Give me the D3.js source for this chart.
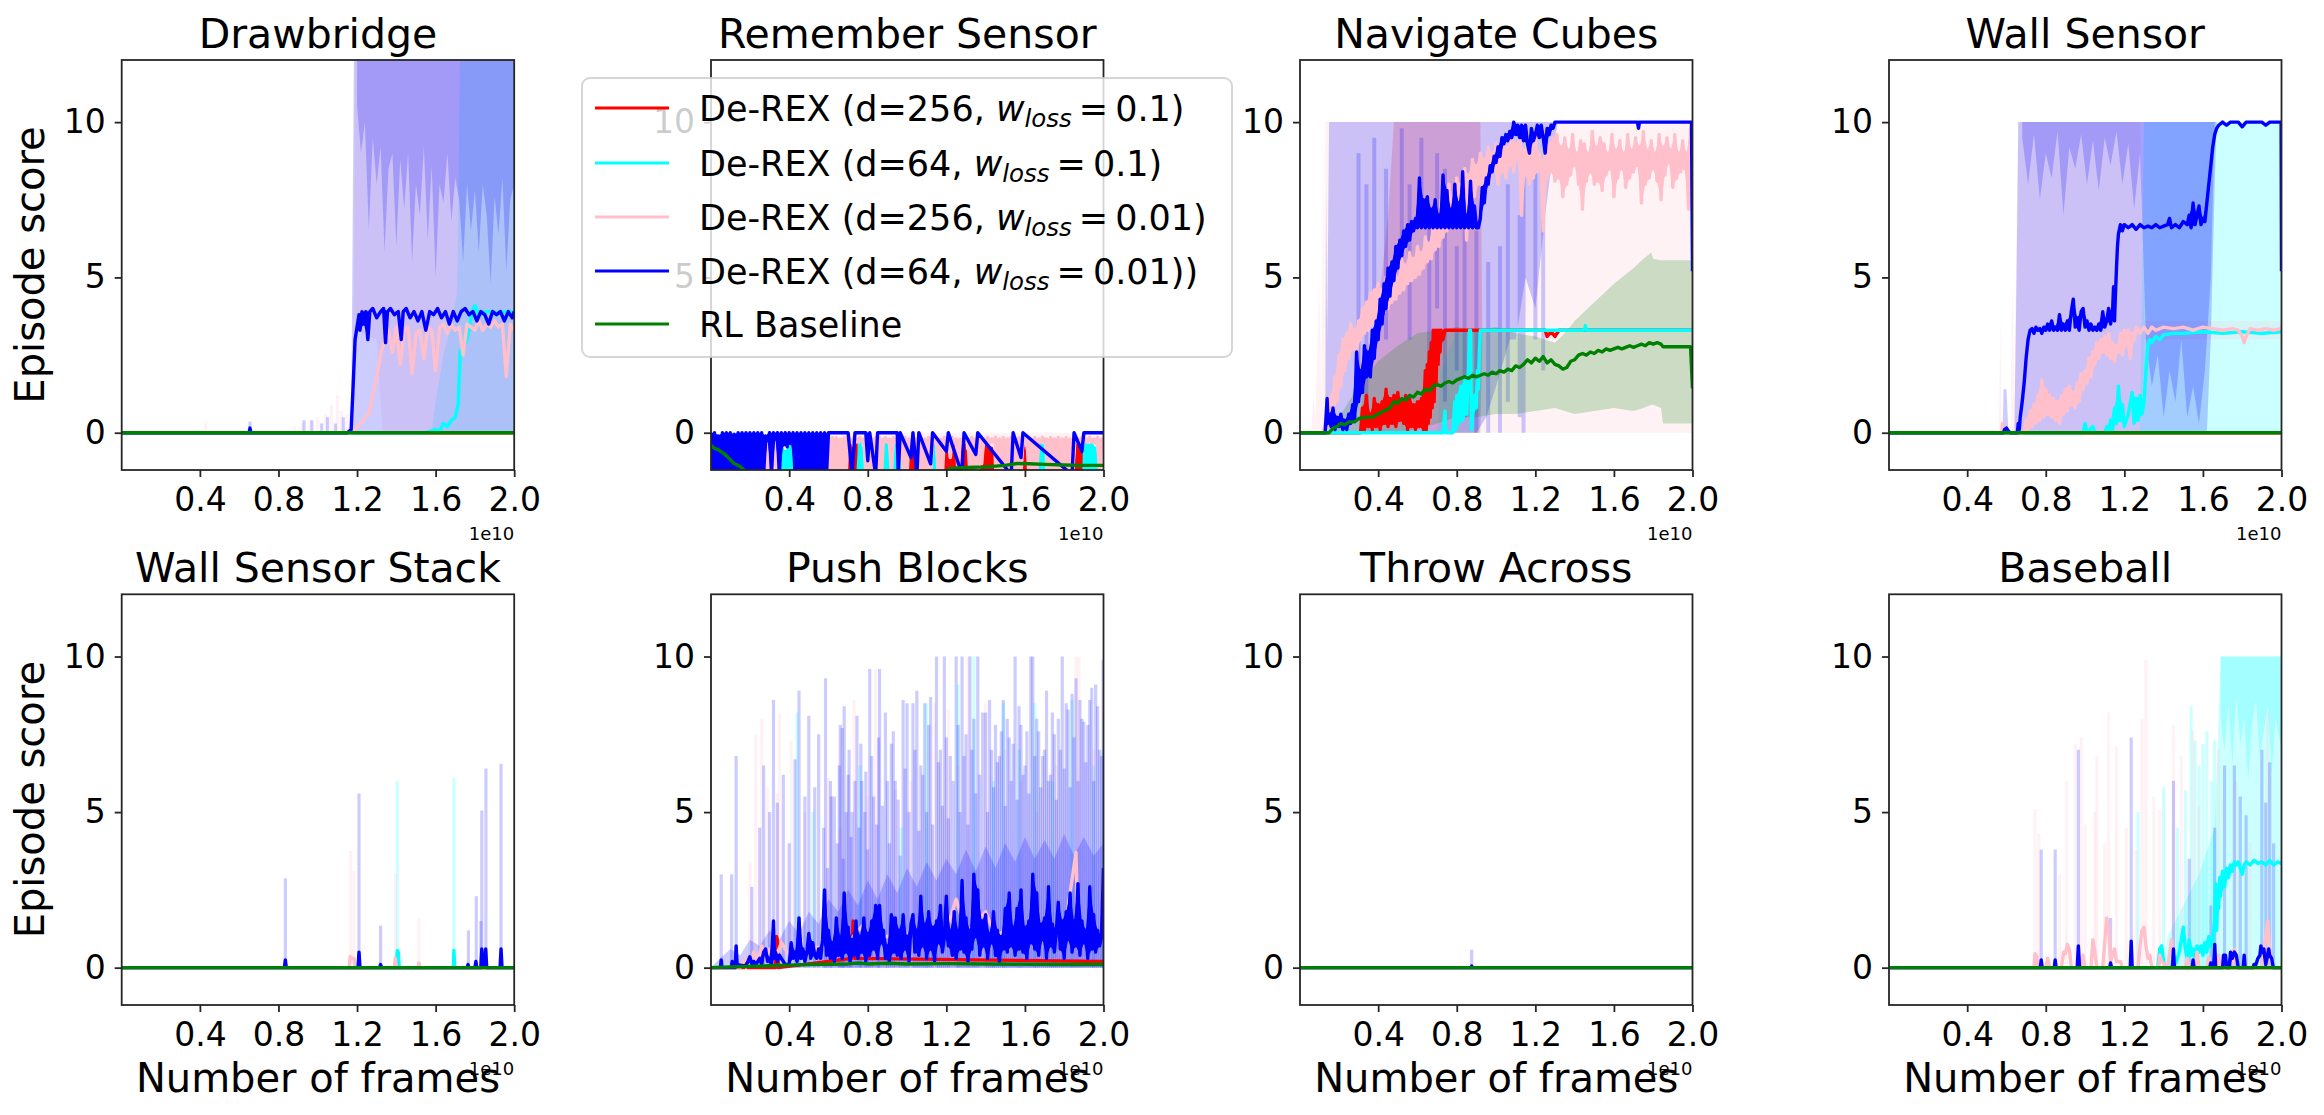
<!DOCTYPE html>
<html><head><meta charset="utf-8">
<script src="https://cdn.jsdelivr.net/npm/d3@7"></script>
<style>
body{margin:0;background:#fff;}
svg text{font-family:"DejaVu Sans",sans-serif;fill:#000;}
</style>
</head><body>
<svg id="chart" width="2324" height="1115"></svg>
<script>
// ---------------- DATA (x in units of 1e10 frames) ----------------
const panelTitles = ["Drawbridge","Remember Sensor","Navigate Cubes","Wall Sensor","Wall Sensor Stack","Push Blocks","Throw Across","Baseball"];
const xTicks = [0.4, 0.8, 1.2, 1.6, 2.0];
const yTicks = [0, 5, 10];
const seriesNames = ["red","cyan","pink","blue","green"];
const seriesColors = {red:"#ff0000", cyan:"#00ffff", pink:"#ffc0cb", blue:"#0000ff", green:"#008000"};
const legendLabels = [
  ["De-REX (d=256, ", "0.1)"],
  ["De-REX (d=64, ", "0.1)"],
  ["De-REX (d=256, ", "0.01)"],
  ["De-REX (d=64, ", "0.01))"],
  ["RL Baseline", null]
];
const zeroLine = [[0,0],[2.0,0]];

// ---- Drawbridge ----
const db_cyan_line = [[0,0],[1.55,0],[1.60,0.1],[1.62,0.05],[1.64,0.3],[1.66,0.2],[1.68,0.4],[1.70,0.5],[1.715,0.9],[1.725,2.6],[1.74,2.8],[1.755,2.9],[1.77,3.3],[1.785,3.9],[1.80,4.1],[1.82,3.8],[1.85,3.9],[1.88,3.9],[1.92,3.85],[1.96,3.9],[2.0,3.9]];
const db_pink_line = [[0,0],[1.18,0],[1.20,0.2],[1.22,0.3],[1.24,0.5],[1.26,0.6],[1.28,1.2],[1.30,1.8],[1.32,2.5],[1.34,3.0],[1.36,3.3],[1.38,2.6],[1.40,3.4],[1.42,2.2],[1.44,3.3],[1.46,3.4],[1.48,1.9],[1.50,3.2],[1.52,3.3],[1.54,2.4],[1.56,3.4],[1.58,3.3],[1.60,2.0],[1.62,3.4],[1.64,3.5],[1.66,3.2],[1.68,3.5],[1.70,3.3],[1.72,3.4],[1.74,2.5],[1.76,3.5],[1.78,3.4],[1.80,3.3],[1.82,3.6],[1.84,3.3],[1.86,3.5],[1.88,3.4],[1.90,3.6],[1.92,3.4],[1.94,3.5],[1.96,1.8],[1.98,3.5],[2.0,3.3]];
const db_blue_line = [[0,0],[0.65,0],[0.655,0.15],[0.66,0],[1.15,0],[1.17,0.1],[1.18,1.5],[1.19,3.0],[1.20,3.4],[1.21,3.8],[1.215,3.3],[1.225,3.9],[1.235,3.5],[1.245,3.9],[1.255,3.0],[1.265,3.9],[1.28,4.0],[1.30,3.7],[1.32,3.9],[1.335,4.0],[1.345,2.9],[1.355,3.9],[1.37,4.0],[1.39,3.8],[1.41,3.9],[1.425,3.0],[1.435,3.9],[1.45,4.0],[1.47,3.7],[1.49,3.9],[1.51,3.6],[1.53,3.9],[1.55,3.3],[1.57,3.9],[1.59,3.8],[1.61,4.0],[1.63,3.7],[1.65,3.9],[1.67,3.5],[1.69,3.9],[1.71,3.6],[1.73,3.9],[1.75,4.0],[1.77,3.8],[1.79,3.9],[1.81,3.6],[1.83,3.9],[1.85,3.8],[1.87,3.5],[1.89,3.9],[1.91,3.8],[1.93,3.9],[1.95,3.6],[1.97,3.9],[1.99,3.7],[2.0,3.9]];
const db_cyan_band = [[1.58,0,0],[1.60,0,1.0],[1.64,0,2.5],[1.68,0,3.5],[1.71,0,4.5],[1.725,0,13],[2.0,0,13]];
const db_pink_band = [[1.18,0,0],[1.19,3.3,13],[1.30,3.0,13],[1.33,0,13],[2.0,0,13]];
const db_blue_band = [[1.17,0,0],[1.185,0,13],[2.0,0,13]];
const db_blue_band2 = [[1.20,10.5,13],[1.22,9.0,13],[1.24,10.0,13],[1.26,6.5,13],[1.28,9.5,13],[1.30,8.0,13],[1.32,9.2,13],[1.34,5.8,13],[1.36,8.5,13],[1.38,9.0,13],[1.40,6.0,13],[1.42,8.8,13],[1.44,7.2,13],[1.46,9.0,13],[1.48,5.5,13],[1.50,8.0,13],[1.52,7.0,13],[1.54,9.2,13],[1.56,6.2,13],[1.58,8.6,13],[1.60,5.0,13],[1.62,8.0,13],[1.64,7.4,13],[1.66,9.0,13],[1.68,6.8,13],[1.70,8.2,13],[1.72,7.5,13],[1.74,5.5,13],[1.76,8.0,13],[1.78,6.5,13],[1.80,7.8,13],[1.82,5.8,13],[1.84,8.0,13],[1.86,7.0,13],[1.88,4.8,13],[1.90,7.6,13],[1.92,6.4,13],[1.94,8.2,13],[1.96,5.2,13],[1.98,7.5,13],[2.0,8.0,13]];
const db_pink_spikes = [[0.43,0.35],[0.88,0.2],[0.92,0.3],[0.96,0.4],[1.0,0.5],[1.04,0.6],[1.07,0.9],[1.10,1.2],[1.12,0.7],[1.15,0.6]];
const db_blue_spikes = [[0.655,0.35],[0.93,0.4],[0.97,0.4],[1.02,0.3],[1.05,0.5],[1.09,0.3],[1.13,0.5]];

// ---- Remember Sensor ----
const rs_red_line = [[0,-1.35],[0.70,-1.35],[0.71,-0.4],[0.715,-1.35],[0.725,-0.5],[0.73,-1.35],[0.74,-0.35],[0.745,-1.35],[1.00,-1.35],[1.01,-0.5],[1.015,-1.35],[1.025,-0.3],[1.03,-1.35],[1.04,-0.6],[1.045,-1.35],[1.19,-1.35],[1.20,-0.4],[1.205,-1.35],[1.215,-0.3],[1.22,-1.35],[1.235,-0.5],[1.24,-1.35],[1.25,-0.35],[1.255,-1.35],[1.27,-0.4],[1.275,-1.35],[1.29,-0.3],[1.295,-1.35],[1.305,-0.6],[1.31,-1.35],[1.38,-1.35],[1.39,-0.45],[1.395,-1.35],[1.41,-0.3],[1.415,-1.35],[1.43,-0.5],[1.435,-1.35],[1.58,-1.35],[1.59,-0.4],[1.595,-1.35],[1.605,-0.5],[1.61,-1.35],[1.86,-1.35],[1.87,-0.35],[1.875,-1.35],[1.89,-0.3],[1.895,-1.35],[2.0,-1.35]];
const rs_cyan_line = [[0,-1.35],[0.03,-1.35],[0.035,-0.1],[0.04,-1.35],[0.36,-1.35],[0.365,-0.5],[0.37,-1.35],[0.38,-0.6],[0.385,-1.35],[0.395,-0.5],[0.40,-1.35],[0.41,-0.4],[0.415,-1.35],[0.75,-1.35],[0.76,-0.3],[0.765,-1.35],[0.77,-0.5],[0.775,-1.35],[0.875,-1.35],[0.88,-0.4],[0.885,-1.35],[0.895,-0.3],[0.90,-1.35],[0.91,-0.5],[0.915,-1.35],[0.93,-1.35],[0.935,-0.4],[0.94,-1.35],[0.95,-0.3],[0.955,-1.35],[0.965,-0.5],[0.97,-1.35],[1.13,-1.35],[1.135,-0.4],[1.14,-1.35],[1.67,-1.35],[1.675,-0.3],[1.68,-1.35],[1.69,-0.4],[1.695,-1.35],[1.90,-1.35],[1.905,-0.3],[1.91,-1.35],[1.925,-0.4],[1.93,-1.35],[1.94,-0.3],[1.945,-1.35],[1.96,-0.5],[1.965,-1.35],[2.0,-1.35]];
const rs_pink_line = [[0,-1.35],[0.275,-1.35],[0.28,-0.3],[0.285,-1.35],[0.29,-0.4],[0.295,-1.35],[0.30,-0.3],[0.31,-1.35],[0.33,-0.3],[0.335,-1.35],[0.59,-1.35],[0.60,-0.15],[0.61,-1.35],[0.62,-0.15],[0.63,-1.35],[0.64,-0.15],[0.65,-1.35],[0.66,-0.2],[0.67,-1.35],[0.68,-0.15],[0.69,-1.35],[0.70,-0.15],[0.705,-0.3],[0.71,-0.2],[0.72,-0.3],[0.73,-0.15],[0.74,-0.3],[0.75,-0.2],[0.755,-0.3],[0.76,-0.15],[0.77,-0.25],[0.78,-0.2],[0.79,-1.35],[0.80,-0.15],[0.81,-1.35],[0.82,-0.2],[0.83,-1.35],[0.84,-0.15],[0.85,-1.35],[0.86,-0.15],[0.87,-1.35],[0.88,-0.2],[0.885,-0.3],[0.89,-0.15],[0.90,-0.3],[0.91,-0.2],[0.92,-1.35],[0.93,-0.15],[0.94,-0.3],[0.95,-0.2],[0.96,-0.35],[0.97,-0.15],[0.98,-1.35],[0.99,-0.15],[1.00,-1.35],[1.01,-0.2],[1.02,-0.3],[1.03,-0.15],[1.04,-0.3],[1.05,-0.2],[1.06,-1.35],[1.07,-0.15],[1.08,-1.35],[1.09,-0.2],[1.10,-1.35],[1.11,-0.15],[1.12,-1.35],[1.13,-0.2],[1.14,-0.3],[1.15,-0.15],[1.16,-1.35],[1.17,-0.2],[1.18,-1.35],[1.19,-0.15],[1.20,-0.3],[1.21,-0.2],[1.22,-0.8],[1.23,-0.15],[1.24,-0.3],[1.25,-0.2],[1.26,-1.35],[1.27,-0.2],[1.28,-0.35],[1.29,-0.15],[1.30,-0.3],[1.31,-0.2],[1.32,-1.35],[1.33,-0.15],[1.34,-1.35],[1.35,-0.2],[1.36,-1.35],[1.37,-0.15],[1.38,-1.0],[1.39,-0.2],[1.40,-0.3],[1.41,-0.15],[1.42,-0.35],[1.43,-0.2],[1.44,-0.3],[1.45,-0.15],[1.46,-1.35],[1.47,-0.2],[1.48,-1.35],[1.49,-0.15],[1.50,-1.35],[1.51,-0.2],[1.52,-1.35],[1.53,-0.15],[1.54,-0.9],[1.55,-0.2],[1.56,-1.35],[1.57,-0.15],[1.58,-1.35],[1.59,-0.2],[1.60,-0.3],[1.61,-0.15],[1.62,-1.35],[1.63,-0.2],[1.64,-1.35],[1.65,-0.15],[1.66,-1.35],[1.67,-0.2],[1.68,-0.3],[1.69,-0.15],[1.70,-0.35],[1.71,-0.2],[1.72,-1.35],[1.73,-0.15],[1.74,-1.35],[1.75,-0.2],[1.76,-1.35],[1.77,-0.15],[1.78,-1.35],[1.79,-0.2],[1.80,-1.35],[1.81,-0.15],[1.82,-1.35],[1.83,-0.2],[1.84,-1.35],[1.85,-0.15],[1.86,-0.3],[1.87,-0.2],[1.88,-0.3],[1.89,-0.15],[1.90,-0.35],[1.91,-0.2],[1.92,-0.3],[1.93,-0.15],[1.94,-0.3],[1.95,-0.2],[1.96,-0.35],[1.97,-0.15],[1.98,-1.35],[1.99,-0.2],[2.0,-0.3]];
const rs_pink_band = [[0.6,-1.35,0],[2.0,-1.35,0]];
const rs_blue_line = [[0,0],[0.01,-1.35],[0.02,0],[0.03,-1.35],[0.04,-0.1],[0.05,-1.35],[0.06,0],[0.07,-1.35],[0.08,0],[0.09,-1.35],[0.10,0],[0.11,-1.35],[0.12,-0.05],[0.13,-1.35],[0.14,0],[0.15,-1.35],[0.16,0],[0.17,-1.35],[0.18,0],[0.19,-1.35],[0.20,0],[0.21,-1.35],[0.22,0],[0.23,-1.35],[0.24,0],[0.25,-1.35],[0.26,0],[0.27,-1.35],[0.28,-0.1],[0.29,-0.25],[0.30,0],[0.31,-1.35],[0.32,0],[0.33,-0.2],[0.34,0],[0.35,-1.35],[0.36,0],[0.37,-0.4],[0.38,0],[0.39,-0.45],[0.40,0],[0.41,-0.35],[0.42,0],[0.43,-1.35],[0.44,0],[0.45,-1.35],[0.46,0],[0.47,-1.35],[0.48,0],[0.49,-1.35],[0.50,0],[0.51,-1.35],[0.52,0],[0.53,-1.35],[0.54,0],[0.55,-1.35],[0.56,0],[0.57,-1.35],[0.58,0],[0.59,-1.35],[0.60,0],[0.70,0],[0.72,-1.35],[0.735,0],[0.79,0],[0.80,-0.9],[0.81,0],[0.84,-1.35],[0.85,0],[0.95,0],[0.955,-1.35],[0.965,0],[1.02,-0.8],[1.03,0],[1.05,-1.35],[1.06,0],[1.12,-1.0],[1.13,0],[1.20,-0.6],[1.21,0],[1.28,-1.35],[1.29,0],[1.35,-0.7],[1.36,0],[1.53,-1.35],[1.54,0],[1.58,-0.8],[1.59,0],[1.84,-1.35],[1.85,0],[1.89,-0.6],[1.90,0],[2.0,0]];
const rs_green_line = [[0.0,-0.4],[0.02,-0.5],[0.04,-0.55],[0.068,-0.67],[0.09,-0.8],[0.119,-0.99],[0.14,-1.05],[0.153,-1.1],[0.17,-1.2],[0.2,-1.35],[1.15,-1.35],[1.22,-1.15],[1.3,-1.12],[1.4,-1.1],[1.5,-1.05],[1.56,-0.99],[1.62,-1.0],[1.7,-1.02],[1.8,-1.04],[1.88,-1.05],[1.96,-1.05],[2.0,-1.05]];
const rs_green_band = [[1.0,-1.35,-1.35],[1.05,-1.35,-0.7],[1.8,-1.35,-0.7],[1.85,-1.35,-1.35]];

// ---- Navigate Cubes ----
const nc_red_line = [[0,0],[0.31,0],[0.32,0.8],[0.33,0.1],[0.34,1.2],[0.35,0.2],[0.36,0.6],[0.37,0.1],[0.38,1.1],[0.39,0.2],[0.40,0.9],[0.41,0.1],[0.42,1.0],[0.43,0.3],[0.44,1.4],[0.45,0.2],[0.46,1.1],[0.47,0.3],[0.48,1.2],[0.49,0.2],[0.50,1.3],[0.51,0.4],[0.52,1.0],[0.53,0.3],[0.54,1.2],[0.55,0.1],[0.56,1.1],[0.57,0.2],[0.58,0.9],[0.59,0.1],[0.60,1.0],[0.61,0.2],[0.62,1.1],[0.63,0.1],[0.64,2.0],[0.645,0.1],[0.65,2.2],[0.655,0.3],[0.66,2.6],[0.665,0.5],[0.67,2.9],[0.675,0.8],[0.68,3.3],[0.685,1.0],[0.69,3.3],[0.695,1.6],[0.70,3.3],[0.705,2.2],[0.71,3.3],[0.715,2.6],[0.72,3.3],[0.73,3.0],[0.74,3.3],[1.25,3.3],[1.26,3.1],[1.28,3.25],[1.30,3.1],[1.32,3.3],[2.0,3.3]];
const nc_red_band = [[0.31,0,0],[0.32,0,1.5],[0.40,0,4.0],[0.45,0,7.0],[0.48,0,10],[0.92,0,10],[0.93,3.3,3.3],[2.0,3.3,3.3]];
const nc_cyan_line = [[0,0],[0.73,0],[0.74,0.7],[0.745,0],[0.78,0],[0.79,1.0],[0.795,0.1],[0.80,1.2],[0.81,0.3],[0.82,1.5],[0.83,0.4],[0.84,1.7],[0.85,0.6],[0.86,2.0],[0.865,3.3],[0.87,3.3],[0.875,0.1],[0.88,0.5],[0.89,1.2],[0.90,0.8],[0.905,2.0],[0.91,1.4],[0.915,2.6],[0.92,3.3],[1.45,3.3],[1.455,3.45],[1.46,3.3],[2.0,3.3]];
const nc_cyan_band = [[0.70,0,0],[0.72,0,2],[0.80,0,3.3],[0.92,0,3.3],[0.93,3.3,3.3],[2.0,3.3,3.3]];
const nc_pink_line = [[0,0],[0.12,0],[0.13,0.3],[0.14,0.8],[0.15,0.3],[0.16,1.2],[0.17,0.6],[0.18,1.8],[0.19,1.0],[0.20,2.5],[0.21,1.5],[0.22,3.0],[0.23,2.0],[0.24,3.2],[0.25,2.4],[0.26,3.5],[0.27,2.7],[0.28,3.3],[0.29,2.5],[0.30,3.6],[0.31,3.0],[0.32,4.0],[0.33,3.2],[0.34,4.2],[0.35,3.3],[0.36,4.5],[0.37,3.5],[0.38,4.6],[0.39,3.6],[0.40,4.8],[0.41,3.8],[0.42,4.6],[0.43,3.9],[0.44,5.0],[0.45,4.0],[0.46,4.8],[0.47,4.2],[0.48,5.3],[0.49,4.3],[0.50,5.0],[0.51,4.5],[0.52,5.6],[0.53,4.6],[0.54,5.4],[0.55,4.8],[0.56,5.8],[0.57,4.9],[0.58,5.6],[0.59,5.0],[0.60,6.0],[0.61,5.1],[0.62,5.8],[0.63,5.3],[0.64,6.3],[0.65,5.5],[0.66,6.1],[0.67,5.6],[0.68,6.8],[0.69,5.9],[0.70,6.5],[0.71,6.0],[0.72,7.5],[0.73,6.3],[0.74,7.1],[0.75,6.5],[0.76,8.0],[0.77,6.8],[0.78,7.6],[0.79,7.0],[0.80,8.2],[0.81,7.2],[0.82,8.0],[0.83,7.5],[0.84,8.5],[0.85,6.2],[0.86,8.3],[0.87,7.8],[0.88,8.8],[0.89,7.6],[0.90,8.6],[0.91,8.0],[0.92,9.0],[0.93,7.9],[0.94,8.8],[0.95,8.2],[0.96,9.2],[0.97,8.1],[0.98,9.0],[0.99,8.5],[1.00,9.3],[1.01,8.0],[1.02,9.1],[1.03,8.4],[1.04,9.4],[1.05,8.2],[1.06,9.2],[1.07,8.6],[1.08,9.6],[1.09,8.4],[1.10,9.3],[1.11,8.8],[1.12,9.5],[1.13,7.0],[1.14,9.1],[1.15,8.3],[1.16,9.4],[1.17,8.0],[1.18,9.2],[1.19,8.2],[1.20,9.5],[1.21,8.4],[1.22,9.0],[1.23,8.6],[1.24,6.5],[1.25,9.1],[1.26,8.2],[1.27,9.3],[1.28,8.4],[1.29,9.5],[1.30,8.1],[1.31,9.6],[1.32,8.2],[1.33,9.2],[1.34,7.6],[1.35,9.5],[1.36,8.0],[1.37,9.1],[1.38,8.3],[1.39,9.6],[1.40,8.6],[1.41,9.0],[1.42,8.0],[1.43,9.4],[1.44,7.2],[1.45,9.3],[1.46,8.1],[1.47,9.0],[1.48,8.4],[1.49,9.7],[1.50,8.0],[1.51,9.2],[1.52,8.1],[1.53,9.5],[1.54,7.8],[1.55,9.3],[1.56,8.3],[1.57,9.0],[1.58,8.5],[1.59,9.6],[1.60,7.6],[1.61,9.1],[1.62,8.2],[1.63,9.4],[1.64,8.5],[1.65,9.0],[1.66,7.9],[1.67,9.6],[1.68,8.2],[1.69,9.1],[1.70,8.4],[1.71,9.5],[1.72,8.6],[1.73,9.2],[1.74,7.4],[1.75,9.7],[1.76,8.0],[1.77,9.1],[1.78,8.2],[1.79,9.4],[1.80,8.5],[1.81,9.0],[1.82,8.1],[1.83,9.6],[1.84,7.5],[1.85,9.2],[1.86,8.3],[1.87,9.5],[1.88,8.7],[1.89,9.1],[1.90,7.9],[1.91,9.6],[1.92,8.2],[1.93,9.0],[1.94,8.4],[1.95,9.4],[1.96,8.5],[1.97,9.0],[1.98,7.2],[1.99,9.8],[2.0,8.6]];
const nc_pink_band = [[0.06,0,0],[0.07,0,1.2],[0.08,0,0.5],[0.10,0,5.0],[0.11,0,1.0],[0.12,0,10],[0.125,0,3.0],[0.13,0,10],[2.0,0,10]];
const nc_blue_line = [[0,0],[0.13,0],[0.14,1.1],[0.145,0.3],[0.15,0.6],[0.16,0.2],[0.17,0.8],[0.18,0.1],[0.19,0.5],[0.20,0.2],[0.21,0.6],[0.22,0.1],[0.23,0.4],[0.24,0.1],[0.25,0.6],[0.26,0.3],[0.27,0.9],[0.28,0.4],[0.29,2.6],[0.30,1.0],[0.31,2.0],[0.32,1.3],[0.33,2.8],[0.34,1.8],[0.35,2.6],[0.36,1.8],[0.37,3.3],[0.38,2.4],[0.39,3.6],[0.40,3.0],[0.41,4.3],[0.42,3.5],[0.43,4.8],[0.44,4.0],[0.45,5.3],[0.46,4.4],[0.47,5.5],[0.48,4.9],[0.49,6.0],[0.50,5.3],[0.51,6.2],[0.52,5.7],[0.53,6.5],[0.54,6.0],[0.55,6.7],[0.56,6.2],[0.57,6.8],[0.58,6.5],[0.59,6.9],[0.60,6.6],[0.61,8.2],[0.62,6.6],[0.63,7.5],[0.64,6.6],[0.65,7.6],[0.66,6.6],[0.67,7.2],[0.68,6.6],[0.69,7.5],[0.70,6.6],[0.71,7.0],[0.72,6.6],[0.73,8.3],[0.74,6.6],[0.75,7.8],[0.76,6.6],[0.77,7.2],[0.78,6.6],[0.79,8.0],[0.80,6.6],[0.81,7.4],[0.82,6.6],[0.83,8.4],[0.84,6.6],[0.85,7.0],[0.86,6.6],[0.87,8.1],[0.88,6.6],[0.89,7.3],[0.90,6.6],[0.91,6.6],[0.92,6.9],[0.93,7.9],[0.94,7.4],[0.95,8.2],[0.96,8.0],[0.97,8.6],[0.98,8.4],[0.99,8.9],[1.00,8.7],[1.01,9.2],[1.02,8.9],[1.03,9.5],[1.04,9.3],[1.05,9.6],[1.06,9.4],[1.07,9.7],[1.08,9.5],[1.09,10.0],[1.10,9.6],[1.11,9.9],[1.12,9.5],[1.13,9.9],[1.14,9.4],[1.15,9.9],[1.16,9.3],[1.17,9.0],[1.18,9.8],[1.19,9.4],[1.20,9.6],[1.21,9.9],[1.22,9.5],[1.23,9.9],[1.24,9.5],[1.25,9.0],[1.26,9.8],[1.27,9.6],[1.28,9.9],[1.29,9.8],[1.30,10.0],[1.72,10.0],[1.725,9.8],[1.73,10.0],[1.995,10.0],[2.0,5.2]];
const nc_blue_band = [[0.13,0,0],[0.135,0,8.0],[0.14,0,3],[0.15,0,10],[0.9,0,10],[0.95,0.5,10],[1.0,1.5,10],[1.07,3.0,10],[1.1,3.0,10],[1.15,5,10],[1.2,4,10],[1.25,7,10],[1.3,9.5,10],[1.315,10,10],[2.0,10,10]];
const nc_blue_streaks = [[0.30,2,9],[0.34,1,8],[0.38,4,9.5],[0.44,3,8.5],[0.52,5,9.8],[0.56,3,8],[0.62,7,9.5],[0.66,2,7],[0.70,4,9],[0.74,1,8.5],[0.80,2,6],[0.84,0.5,7],[0.90,0,6.5],[0.96,0,5.5],[1.02,0,6],[1.06,1,8],[1.12,0.5,7],[1.14,0,9],[1.20,3,8.5],[1.24,2,7]];
const nc_green_line = [[0,0],[0.15,0],[0.17,0.15],[0.19,0.2],[0.21,0.3],[0.23,0.25],[0.25,0.35],[0.28,0.35],[0.30,0.45],[0.33,0.5],[0.37,0.5],[0.40,0.6],[0.43,0.7],[0.46,0.8],[0.48,1.0],[0.50,0.95],[0.52,1.1],[0.54,1.05],[0.56,1.2],[0.58,1.15],[0.60,1.3],[0.62,1.25],[0.64,1.4],[0.66,1.35],[0.68,1.5],[0.70,1.55],[0.72,1.5],[0.74,1.6],[0.76,1.65],[0.78,1.6],[0.80,1.7],[0.82,1.75],[0.84,1.8],[0.86,1.75],[0.88,1.85],[0.90,1.8],[0.92,1.85],[0.94,1.9],[0.96,1.85],[0.98,1.95],[1.00,1.9],[1.02,2.0],[1.04,1.95],[1.06,2.05],[1.08,2.0],[1.10,2.15],[1.12,2.1],[1.14,2.2],[1.16,2.35],[1.18,2.25],[1.20,2.4],[1.22,2.3],[1.24,2.45],[1.26,2.25],[1.28,2.35],[1.30,2.2],[1.32,2.15],[1.34,2.05],[1.36,2.1],[1.38,2.3],[1.40,2.35],[1.42,2.5],[1.44,2.55],[1.46,2.5],[1.48,2.6],[1.50,2.55],[1.52,2.65],[1.54,2.6],[1.56,2.7],[1.58,2.65],[1.60,2.7],[1.62,2.75],[1.64,2.7],[1.66,2.75],[1.68,2.8],[1.70,2.75],[1.72,2.8],[1.74,2.85],[1.76,2.8],[1.78,2.9],[1.80,2.85],[1.82,2.9],[1.84,2.85],[1.85,2.77],[1.99,2.77],[2.0,1.43]];
const nc_green_band = [[0.15,0,0],[0.2,0,0.5],[0.3,0,1.5],[0.4,0,2.3],[0.5,0,2.8],[0.6,0.1,3.2],[0.7,0.3,3.3],[0.8,0.5,3.4],[0.9,0.5,3.3],[1.0,0.6,3.4],[1.1,0.6,3.2],[1.2,0.7,3.1],[1.3,0.8,2.9],[1.35,0.7,3.2],[1.4,0.6,3.6],[1.5,0.7,4.2],[1.6,0.8,4.8],[1.7,0.7,5.3],[1.75,0.8,5.6],[1.79,0.9,5.8],[1.80,0.9,5.6],[1.84,0.8,5.55],[1.85,0.3,5.55],[2.0,0.3,5.55]];

// ---- Wall Sensor ----
const ws_cyan_line = [[0,0],[0.99,0],[1.0,0.3],[1.01,0],[1.04,0.2],[1.05,0],[1.10,0],[1.11,0.2],[1.12,0.0],[1.13,0.4],[1.14,0.1],[1.15,0.8],[1.16,0.3],[1.17,1.5],[1.18,0.4],[1.19,0.9],[1.20,0.2],[1.22,0.6],[1.24,1.3],[1.25,0.3],[1.26,1.1],[1.27,0.4],[1.28,1.2],[1.29,0.6],[1.30,1.0],[1.31,2.0],[1.32,2.8],[1.33,3.0],[1.34,2.9],[1.36,3.1],[1.38,3.0],[1.40,3.15],[1.45,3.2],[1.5,3.2],[1.6,3.25],[1.7,3.2],[1.8,3.25],[1.9,3.2],[2.0,3.25]];
const ws_cyan_band = [[1.28,0,0],[1.30,0,10],[2.0,0,10]];
const ws_pink_line = [[0,0],[0.575,0],[0.58,0.3],[0.585,0],[0.69,0],[0.70,0.4],[0.71,0.1],[0.72,0.7],[0.73,0.2],[0.74,0.9],[0.75,0.3],[0.76,1.2],[0.77,0.4],[0.78,1.7],[0.79,0.5],[0.80,1.4],[0.81,0.6],[0.82,1.2],[0.83,0.5],[0.84,1.1],[0.85,0.4],[0.86,1.0],[0.87,0.3],[0.88,1.2],[0.89,0.6],[0.90,1.4],[0.91,0.7],[0.92,1.5],[0.93,0.9],[0.94,1.3],[0.95,0.8],[0.96,1.6],[0.97,1.0],[0.98,1.9],[0.99,1.4],[1.00,2.0],[1.01,1.6],[1.02,2.4],[1.03,1.8],[1.04,2.6],[1.05,2.2],[1.06,2.9],[1.07,2.4],[1.08,3.0],[1.09,2.6],[1.10,3.1],[1.11,2.5],[1.12,3.2],[1.13,2.4],[1.14,2.9],[1.15,2.3],[1.16,2.8],[1.17,2.6],[1.18,3.2],[1.19,2.5],[1.20,3.3],[1.21,2.8],[1.22,3.3],[1.23,2.4],[1.24,3.2],[1.25,3.0],[1.26,3.4],[1.28,3.2],[1.30,3.4],[1.32,3.2],[1.34,3.4],[1.36,3.3],[1.40,3.4],[1.45,3.35],[1.50,3.4],[1.55,3.3],[1.60,3.4],[1.65,3.35],[1.70,3.3],[1.75,3.35],[1.78,3.3],[1.80,3.1],[1.81,2.9],[1.82,3.1],[1.84,3.35],[1.88,3.3],[1.92,3.35],[1.96,3.3],[2.0,3.35]];
const ws_pink_band = [[0.56,0,0],[0.57,0,3.8],[0.575,0,0],[0.62,0,0],[0.63,0,5.0],[0.64,0,1],[0.65,0,6.0],[0.66,0,10],[1.28,0,10],[1.30,3.0,3.6],[2.0,3.0,3.6]];
const ws_blue_line = [[0,0],[0.585,0],[0.59,0.1],[0.60,0.15],[0.61,0.05],[0.62,0],[0.655,0],[0.66,0.3],[0.665,0.1],[0.67,0.5],[0.68,1.0],[0.69,1.6],[0.70,2.4],[0.71,3.0],[0.72,3.3],[0.73,3.35],[0.74,3.2],[0.75,3.4],[0.76,3.3],[0.77,3.35],[0.78,3.2],[0.79,3.4],[0.80,3.3],[0.81,3.5],[0.82,3.3],[0.83,3.6],[0.84,3.3],[0.85,3.4],[0.86,3.3],[0.87,3.8],[0.88,3.3],[0.89,3.5],[0.90,3.3],[0.91,3.6],[0.92,3.3],[0.93,3.9],[0.94,4.3],[0.95,3.4],[0.96,3.7],[0.97,3.3],[0.98,3.9],[0.99,4.0],[1.00,3.4],[1.01,3.6],[1.02,3.3],[1.03,3.5],[1.04,3.3],[1.05,3.4],[1.06,3.3],[1.07,3.5],[1.08,3.3],[1.09,3.9],[1.10,3.4],[1.11,3.6],[1.12,4.0],[1.13,3.5],[1.14,3.9],[1.145,4.7],[1.15,3.6],[1.155,4.5],[1.16,5.3],[1.165,6.0],[1.17,6.4],[1.18,6.7],[1.19,6.5],[1.20,6.7],[1.22,6.6],[1.24,6.7],[1.26,6.55],[1.28,6.7],[1.30,6.6],[1.32,6.65],[1.34,6.6],[1.36,6.7],[1.38,6.6],[1.40,6.65],[1.42,6.7],[1.43,6.9],[1.44,6.6],[1.46,6.7],[1.48,6.6],[1.50,6.8],[1.52,6.7],[1.53,7.0],[1.54,6.6],[1.55,7.4],[1.56,6.7],[1.57,7.0],[1.58,7.3],[1.59,6.7],[1.60,6.9],[1.61,6.8],[1.62,7.4],[1.63,8.0],[1.64,8.6],[1.65,9.2],[1.66,9.6],[1.67,9.8],[1.68,9.9],[1.70,10.0],[1.72,9.9],[1.74,10.0],[1.78,10.0],[1.80,9.85],[1.82,10.0],[1.9,10.0],[1.92,9.9],[1.94,10.0],[1.998,10.0],[2.0,5.2]];
const ws_blue_band = [[0.58,0,0],[0.585,0,1.4],[0.60,0,1.4],[0.61,0,0],[0.64,0,0],[0.65,0,4.5],[0.66,0,10],[1.62,0,10],[1.64,3,10],[1.66,8,10],[1.67,10,10],[2.0,10,10]];
const ws_blue_band2 = [[0.68,9.5,10],[0.71,8.0,10],[0.74,9.6,10],[0.77,7.5,10],[0.80,9.0,10],[0.83,8.2,10],[0.86,9.7,10],[0.89,7.0,10],[0.92,9.2,10],[0.95,8.5,10],[0.98,9.6,10],[1.01,8.0,10],[1.04,9.4,10],[1.07,7.8,10],[1.10,9.5,10],[1.13,8.6,10],[1.16,9.7,10],[1.19,8.0,10],[1.22,9.3,10],[1.25,7.2,10],[1.28,9.0,10],[1.31,3.0,10],[1.34,1.5,10],[1.37,2.5,10],[1.40,0.5,10],[1.43,2.0,10],[1.46,1.0,10],[1.49,3.0,10],[1.52,0.5,10],[1.55,1.5,10],[1.58,0.3,10],[1.61,2.0,10],[1.64,5.0,10],[1.66,10,10]];

// ---- Wall Sensor Stack ----
const wss_cyan_line = [[0,0],[1.40,0],[1.405,0.55],[1.41,0.5],[1.415,0],[1.69,0],[1.693,0.55],[1.697,0],[2.0,0]];
const wss_cyan_spikes = [[1.405,6.0],[1.693,6.1]];
const wss_pink_line = [[0,0],[1.16,0],[1.165,0.35],[1.175,0.3],[1.185,0.3],[1.19,0],[1.39,0],[1.395,0.3],[1.40,0],[1.51,0],[1.515,0.15],[1.52,0],[2.0,0]];
const wss_pink_spikes = [[1.167,3.75],[1.184,3.1],[1.395,3.05],[1.515,1.6]];
const wss_blue_line = [[0,0],[0.83,0],[0.835,0.25],[0.84,0],[1.205,0],[1.21,0.5],[1.215,0],[1.315,0],[1.32,0.1],[1.325,0],[1.76,0],[1.765,0.1],[1.77,0],[1.80,0],[1.805,0.2],[1.81,0],[1.83,0],[1.835,0.6],[1.84,0.1],[1.85,0.1],[1.855,0.6],[1.86,0],[1.928,0],[1.933,0.6],[1.938,0],[2.0,0]];
const wss_blue_spikes = [[0.835,2.87],[1.21,5.6],[1.32,1.35],[1.767,1.2],[1.807,2.3],[1.83,1.5],[1.835,5.05],[1.856,6.4],[1.933,6.55]];

// ---- Push Blocks ----
const pb_red_line = [[0,0],[0.17,0],[0.18,0.2],[0.19,0],[0.33,0],[0.335,1.0],[0.34,0.9],[0.345,0],[0.72,0.3],[0.725,1.5],[0.73,1.0],[0.735,0.3],[2.0,0.2]];
const pb_cyan_spikes = [[0.44,8.2],[0.52,5.0],[0.76,6.5],[0.97,4.5],[1.10,8.5],[1.26,9.1],[1.34,10],[1.44,6.0],[1.49,8.5],[1.57,7.0],[1.65,8.5],[1.74,6.0],[1.84,8.6],[1.95,6.5],[1.998,7.0]];
const pb_pink_line = [[0,0],[0.15,0],[0.18,0.3],[0.2,0.1],[0.22,0.5],[0.24,0.2],[0.26,0.7],[0.28,0.3],[0.30,0.6],[0.33,0.3],[0.36,0.8],[0.40,0.4],[0.5,0.6],[0.6,0.7],[0.7,0.8],[0.78,1.4],[0.8,0.9],[0.9,1.0],[1.0,1.1],[1.1,1.0],[1.2,1.2],[1.25,2.2],[1.3,1.1],[1.4,1.8],[1.45,1.0],[1.5,1.2],[1.6,1.1],[1.7,1.2],[1.8,1.1],[1.86,3.7],[1.87,1.2],[1.9,1.0],[2.0,1.1]];
const pb_pink_spikes = [[0.20,3.4],[0.23,7.5],[0.26,8.0],[0.29,5.8],[0.34,5.6],[0.35,8.2],[0.41,7.3],[0.48,5.0],[0.60,6.1],[0.66,4.5],[0.73,8.6],[0.80,5.5],[0.84,9.6],[0.94,5.7],[1.02,6.0],[1.14,8.5],[1.21,8.3],[1.26,6.5],[1.31,10],[1.40,8.5],[1.50,7.0],[1.58,6.0],[1.66,5.0],[1.76,6.5],[1.86,10],[1.875,10],[1.95,7.0]];
const pb_blue_line = [[0,0],[0.05,0],[0.054,0.25],[0.058,0],[0.105,0],[0.11,0.2],[0.115,0],[0.125,0],[0.13,0.7],[0.135,0.1],[0.18,0.05],[0.19,0.2],[0.2,0.35],[0.21,0.1],[0.22,0.2],[0.23,0.1],[0.25,0.3],[0.26,0.1],[0.27,0.5],[0.28,0.6],[0.29,0.2],[0.30,0.3],[0.31,0.1],[0.32,1.5],[0.325,0.3],[0.33,0.5],[0.34,0.2],[0.35,0.4],[0.36,0.3],[0.37,0.2],[0.38,0.1],[0.40,0.1],[0.41,0.8],[0.42,0.3],[0.43,0.5],[0.44,0.2],[0.45,1.6],[0.46,0.3],[0.47,0.6],[0.48,0.2],[0.49,0.5],[0.50,1.1],[0.51,0.3],[0.52,0.8],[0.53,0.4],[0.54,0.3],[0.55,0.6],[0.56,0.3],[0.57,0.9],[0.58,2.5],[0.59,0.4],[0.60,1.2],[0.61,0.3],[0.62,0.8],[0.63,0.2],[0.64,1.6],[0.65,0.4],[0.66,1.0],[0.67,0.3],[0.68,2.4],[0.69,0.5],[0.70,1.3],[0.71,0.2],[0.72,0.9],[0.73,0.4],[0.74,1.5],[0.75,0.3],[0.76,1.0],[0.77,0.5],[0.78,1.6],[0.79,0.2],[0.80,1.1],[0.81,0.4],[0.82,1.5],[0.83,0.6],[0.84,2.0],[0.85,0.3],[0.86,2.0],[0.87,0.8],[0.88,1.2],[0.89,0.3],[0.90,0.7],[0.91,0.2],[0.92,1.7],[0.93,0.5],[0.94,1.6],[0.95,0.4],[0.96,1.2],[0.97,0.3],[0.98,1.7],[0.99,0.6],[1.00,1.0],[1.01,0.2],[1.02,1.4],[1.03,1.7],[1.04,0.5],[1.05,1.2],[1.06,0.4],[1.07,2.3],[1.08,0.7],[1.09,1.4],[1.10,0.3],[1.11,1.8],[1.12,0.6],[1.13,1.3],[1.14,0.2],[1.15,1.5],[1.16,0.8],[1.17,2.0],[1.18,0.5],[1.19,1.0],[1.20,2.3],[1.21,0.7],[1.22,1.2],[1.23,0.4],[1.24,1.8],[1.25,0.3],[1.26,1.2],[1.27,0.6],[1.28,2.8],[1.29,0.5],[1.30,1.6],[1.31,0.2],[1.32,1.2],[1.33,0.6],[1.34,3.0],[1.35,1.0],[1.36,2.5],[1.37,0.4],[1.38,1.5],[1.39,0.7],[1.40,1.7],[1.41,0.3],[1.42,1.1],[1.43,0.8],[1.44,1.8],[1.45,0.4],[1.46,1.2],[1.47,0.2],[1.48,1.0],[1.49,0.6],[1.50,1.9],[1.51,0.5],[1.52,2.4],[1.53,0.7],[1.54,1.3],[1.55,0.4],[1.56,1.9],[1.57,0.6],[1.58,2.5],[1.59,0.5],[1.60,1.3],[1.61,0.3],[1.62,1.5],[1.63,0.8],[1.64,3.0],[1.65,0.6],[1.66,2.4],[1.67,0.4],[1.68,1.4],[1.69,0.9],[1.70,1.6],[1.71,0.3],[1.72,2.6],[1.73,0.7],[1.74,1.4],[1.75,0.5],[1.76,1.2],[1.77,2.1],[1.78,0.6],[1.79,1.5],[1.80,0.3],[1.81,1.8],[1.82,0.9],[1.83,2.4],[1.84,0.5],[1.85,1.5],[1.86,0.7],[1.87,2.7],[1.88,0.4],[1.89,1.5],[1.90,0.8],[1.91,1.2],[1.92,0.3],[1.93,2.6],[1.94,0.6],[1.95,1.7],[1.96,0.5],[1.97,1.2],[1.98,0.7],[1.99,1.0],[2.0,3.2]];
const pb_blue_band = [[0,0,0],[0.05,0,0.3],[0.1,0,0.6],[0.15,0,0.4],[0.2,0,0.9],[0.25,0,0.7],[0.3,0,1.2],[0.35,0,0.9],[0.4,0,1.5],[0.45,0,1.1],[0.5,0,1.8],[0.55,0,1.4],[0.6,0,2.2],[0.65,0,1.8],[0.7,0,2.5],[0.75,0,2.0],[0.8,0,2.8],[0.85,0,2.2],[0.9,0,3.0],[0.95,0,2.4],[1.0,0,3.2],[1.05,0,2.6],[1.1,0,3.4],[1.15,0,2.8],[1.2,0,3.5],[1.25,0,3.0],[1.3,0,3.8],[1.35,0,3.1],[1.4,0,3.9],[1.45,0,3.2],[1.5,0,4.0],[1.55,0,3.4],[1.6,0,4.2],[1.65,0,3.5],[1.7,0,4.1],[1.75,0,3.5],[1.8,0,4.3],[1.85,0,3.6],[1.9,0,4.2],[1.95,0,3.6],[2.0,0,4.0]];
const pb_blue_spikes = [[0.054,3.0],[0.107,3.0],[0.13,6.8],[0.21,2.6],[0.25,4.5],[0.27,6.5],[0.30,5.0],[0.32,8.6],[0.34,5.3],[0.37,6.2],[0.40,4.0],[0.43,6.7],[0.45,8.9],[0.48,5.5],[0.50,8.1],[0.53,5.8],[0.55,7.5],[0.585,9.3],[0.61,6.0],[0.63,5.5],[0.66,7.8],[0.67,7.7],[0.68,8.4],[0.70,6.2],[0.72,5.0],[0.745,8.1],[0.77,6.0],[0.79,6.3],[0.81,9.6],[0.83,5.5],[0.86,9.6],[0.89,8.2],[0.92,7.2],[0.94,6.0],[0.98,8.6],[1.00,8.5],[1.03,8.5],[1.05,8.9],[1.07,6.5],[1.09,8.5],[1.12,8.7],[1.15,10],[1.17,7.0],[1.19,10],[1.22,6.8],[1.25,10],[1.28,10],[1.30,7.5],[1.32,10],[1.34,8.0],[1.36,10],[1.40,8.2],[1.42,8.6],[1.45,7.8],[1.47,6.8],[1.49,8.6],[1.52,7.4],[1.55,10],[1.58,7.8],[1.60,6.5],[1.63,10],[1.64,10],[1.67,7.6],[1.69,6.8],[1.71,8.9],[1.73,6.2],[1.75,7.5],[1.77,8.0],[1.79,10],[1.82,8.3],[1.84,8.8],[1.86,9.3],[1.88,8.6],[1.90,7.9],[1.93,8.6],[1.94,9.0],[1.96,9.1],[1.98,7.0],[1.998,9.9]];
const pb_blue_spikes2 = [[0.575,4.5],[0.595,3.2],[0.615,5.5],[0.645,4.0],[0.655,6.5],[0.675,3.5],[0.69,5.0],[0.705,7.0],[0.715,4.2],[0.735,6.0],[0.755,4.5],[0.765,7.2],[0.785,5.0],[0.80,3.8],[0.82,6.8],[0.845,4.6],[0.855,7.4],[0.875,5.2],[0.90,6.0],[0.91,4.0],[0.93,7.6],[0.955,5.4],[0.965,3.6],[0.99,6.4],[1.01,5.0],[1.04,7.0],[1.06,4.4],[1.08,6.2],[1.10,5.0],[1.11,7.8],[1.13,4.6],[1.16,6.6],[1.18,5.2],[1.20,7.4],[1.21,4.8],[1.235,6.0],[1.26,7.8],[1.27,5.0],[1.29,6.8],[1.31,4.6],[1.33,7.0],[1.35,5.6],[1.37,6.2],[1.385,8.2],[1.41,5.0],[1.43,7.0],[1.44,5.8],[1.46,6.6],[1.48,7.6],[1.50,5.2],[1.51,8.0],[1.53,6.0],[1.54,7.2],[1.56,5.4],[1.57,8.4],[1.59,6.2],[1.61,7.6],[1.62,5.6],[1.65,6.8],[1.66,8.0],[1.68,5.8],[1.70,7.0],[1.72,6.0],[1.74,8.2],[1.76,5.4],[1.78,7.0],[1.80,6.4],[1.81,8.5],[1.83,5.8],[1.85,7.4],[1.87,6.0],[1.89,8.0],[1.91,6.6],[1.92,7.8],[1.95,6.0],[1.97,8.4],[1.99,6.8]];
const pb_green_line = [[0,0],[0.1,0.02],[0.2,0.04],[0.3,0.06],[0.4,0.08],[0.5,0.1],[0.7,0.12],[0.75,0.15],[0.8,0.12],[0.9,0.14],[1.0,0.12],[1.2,0.13],[1.4,0.12],[1.6,0.11],[1.8,0.1],[2.0,0.1]];

// ---- Throw Across ----
const ta_blue_line = [[0,0],[0.872,0],[0.876,0.05],[0.88,0],[2.0,0]];
const ta_blue_spikes = [[0.876,0.58]];

// ---- Baseball ----
const bb_cyan_line = [[0,0],[1.37,0],[1.38,0.6],[1.39,0.7],[1.40,0.2],[1.41,0],[1.44,0],[1.45,0.4],[1.46,0.1],[1.48,0.5],[1.49,0.9],[1.50,1.3],[1.51,0.6],[1.52,0.3],[1.53,0.9],[1.54,0.4],[1.55,0.6],[1.56,0.3],[1.57,0.7],[1.58,0.5],[1.59,0.7],[1.60,0.4],[1.61,0.8],[1.62,0.5],[1.63,1.0],[1.64,0.7],[1.65,0.9],[1.66,1.5],[1.665,2.7],[1.67,1.2],[1.675,2.2],[1.68,1.9],[1.685,2.9],[1.69,2.3],[1.70,3.1],[1.71,2.6],[1.72,3.2],[1.73,2.9],[1.74,3.3],[1.75,3.1],[1.76,3.4],[1.77,3.3],[1.78,3.4],[1.79,3.2],[1.80,3.0],[1.81,3.3],[1.82,3.4],[1.84,3.3],[1.86,3.45],[1.88,3.35],[1.90,3.4],[1.92,3.3],[1.94,3.45],[1.96,3.3],[1.98,3.4],[2.0,3.35]];
const bb_cyan_band = [[1.40,0,0],[1.42,0,1.0],[1.50,0,2.0],[1.58,0,3.0],[1.66,0,4.5],[1.68,0,8],[1.69,0,10],[2.0,0,10]];
const bb_cyan_band2 = [[1.69,8.0,10],[1.71,7.0,10],[1.73,8.5,10],[1.75,6.5,10],[1.77,8.8,10],[1.79,7.2,10],[1.81,8.0,10],[1.83,6.0,10],[1.85,7.8,10],[1.87,8.6,10],[1.89,6.8,10],[1.91,7.6,10],[1.93,8.4,10],[1.95,6.2,10],[1.97,8.0,10],[2.0,7.0,10]];
const bb_cyan_spikes = [[1.27,5.0],[1.40,5.8],[1.47,4.5],[1.51,5.7],[1.54,8.4],[1.56,7.3],[1.58,6.5],[1.60,7.2],[1.62,7.6],[1.645,6.0],[1.66,7.3]];
const bb_pink_line = [[0,0],[0.74,0],[0.745,0.45],[0.755,0.35],[0.76,0],[0.80,0],[0.81,0.3],[0.82,0],[0.88,0],[0.89,0.5],[0.90,0.45],[0.91,0.75],[0.92,0.6],[0.93,0],[0.985,0],[0.99,0.4],[1.0,0],[1.03,0],[1.04,0.9],[1.05,0.5],[1.06,0],[1.09,0],[1.10,0.8],[1.11,1.6],[1.12,1.3],[1.13,0.2],[1.15,0.6],[1.16,0.2],[1.18,0.2],[1.19,0],[1.27,0],[1.28,0.7],[1.29,1.2],[1.30,1.3],[1.31,0.7],[1.32,0.3],[1.33,0.4],[1.34,0],[1.375,0],[1.38,0.4],[1.39,0.2],[1.42,0],[1.44,0.9],[1.45,0.3],[1.46,0],[1.51,0],[1.52,0.3],[1.53,0],[1.56,0],[1.57,0.5],[1.58,0],[1.62,0],[1.63,0.35],[1.64,0],[1.67,0],[1.68,0.4],[1.69,0],[1.75,0],[1.76,0.6],[1.77,0.3],[1.78,0],[1.90,0],[1.92,1.0],[1.93,1.5],[1.94,0.6],[1.95,0],[2.0,0]];
const bb_pink_spikes = [[0.745,5.1],[0.765,4.3],[0.87,3.0],[0.905,6.0],[0.95,7.2],[0.98,7.4],[1.0,4.6],[1.05,5.0],[1.06,6.8],[1.10,4.0],[1.12,8.2],[1.16,7.1],[1.21,4.5],[1.26,3.8],[1.29,8.0],[1.31,9.9],[1.35,5.5],[1.38,5.1],[1.45,7.8],[1.49,6.8],[1.55,7.6],[1.58,5.2],[1.68,7.0],[1.77,6.0],[1.84,4.0],[1.93,8.2]];
const bb_blue_line = [[0,0],[0.772,0],[0.777,0.25],[0.782,0],[0.843,0],[0.848,0.25],[0.853,0],[0.96,0],[0.966,0.7],[0.972,0],[1.125,0],[1.13,0.15],[1.135,0],[1.23,0],[1.235,0.85],[1.24,0],[1.445,0],[1.45,0.6],[1.455,0],[1.545,0],[1.55,0.25],[1.555,0],[1.635,0],[1.64,0.15],[1.645,0],[1.655,0],[1.66,0.75],[1.665,0],[1.70,0],[1.705,0.4],[1.715,0.4],[1.72,0],[1.735,0],[1.74,0.5],[1.75,0.3],[1.76,0.5],[1.77,0.4],[1.78,0],[1.805,0],[1.81,0.4],[1.815,0],[1.855,0],[1.86,0.1],[1.87,0.1],[1.88,0.3],[1.89,0.4],[1.895,0.7],[1.90,0.5],[1.91,0.6],[1.92,0.1],[1.935,0.6],[1.94,0.4],[1.95,0.3],[1.955,0.1],[1.96,0],[2.0,0]];
const bb_blue_spikes = [[0.777,3.8],[0.848,3.8],[0.966,7.0],[1.13,1.6],[1.235,7.4],[1.45,6.0],[1.53,3.5],[1.64,2.0],[1.66,4.5],[1.71,6.5],[1.76,6.5],[1.79,5.5],[1.82,4.9],[1.90,7.0],[1.92,5.3],[1.94,6.6],[1.96,4.0]];

// ---------------- LAYOUT ----------------
const colLefts = [121.7, 711, 1300, 1889];
const axW = 392.5;
const rowTops = [60, 594.3];
const rowBottoms = [470, 1005];
const xDomain = [0.002, 2.0];
const yDomain = [-1.2, 12];

const panels = [
  {row:0,col:0,layers:[["line","red",zeroLine],["band","cyan",db_cyan_band],["line","cyan",db_cyan_line],["spikes","pink",db_pink_spikes],["band","pink",db_pink_band],["line","pink",db_pink_line],["spikes","blue",db_blue_spikes],["band","blue",db_blue_band],["band","blue",db_blue_band2],["line","blue",db_blue_line],["line","green",zeroLine]]},
  {row:0,col:1,layers:[["line","red",rs_red_line],["line","cyan",rs_cyan_line],["band","pink",rs_pink_band],["line","pink",rs_pink_line],["line","blue",rs_blue_line],["band","green",rs_green_band],["line","green",rs_green_line]]},
  {row:0,col:2,layers:[["band","red",nc_red_band],["line","red",nc_red_line],["band","cyan",nc_cyan_band],["line","cyan",nc_cyan_line],["band","pink",nc_pink_band],["line","pink",nc_pink_line],["band","blue",nc_blue_band],["streaks","blue",nc_blue_streaks],["line","blue",nc_blue_line],["band","green",nc_green_band],["line","green",nc_green_line]]},
  {row:0,col:3,layers:[["line","red",zeroLine],["band","cyan",ws_cyan_band],["line","cyan",ws_cyan_line],["band","pink",ws_pink_band],["line","pink",ws_pink_line],["band","blue",ws_blue_band],["band","blue",ws_blue_band2],["line","blue",ws_blue_line],["line","green",zeroLine]]},
  {row:1,col:0,layers:[["line","red",zeroLine],["spikes","cyan",wss_cyan_spikes],["line","cyan",wss_cyan_line],["spikes","pink",wss_pink_spikes],["line","pink",wss_pink_line],["spikes","blue",wss_blue_spikes],["line","blue",wss_blue_line],["line","green",zeroLine]]},
  {row:1,col:1,layers:[["line","red",pb_red_line],["spikes","cyan",pb_cyan_spikes],["spikes","pink",pb_pink_spikes],["line","pink",pb_pink_line],["band","blue",pb_blue_band],["spikes","blue",pb_blue_spikes],["spikes","blue",pb_blue_spikes2],["line","blue",pb_blue_line],["line","green",pb_green_line]]},
  {row:1,col:2,layers:[["line","red",zeroLine],["line","cyan",zeroLine],["line","pink",zeroLine],["spikes","blue",ta_blue_spikes],["line","blue",ta_blue_line],["line","green",zeroLine]]},
  {row:1,col:3,layers:[["line","red",zeroLine],["band","cyan",bb_cyan_band],["band","cyan",bb_cyan_band2],["spikes","cyan",bb_cyan_spikes],["line","cyan",bb_cyan_line],["spikes","pink",bb_pink_spikes],["line","pink",bb_pink_line],["spikes","blue",bb_blue_spikes],["line","blue",bb_blue_line],["line","green",zeroLine]]}
];

// ---------------- DRAW ----------------
const svg = d3.select("#chart");
const FONT = "DejaVu Sans";
const SPINE = "#262626";
const BAND_ALPHA = 0.2;
const LINE_W = 3.4;

// fill the small triangles spanned by rapidly oscillating consecutive samples,
// so a dense noisy line renders as the solid ribbon it forms in the original
function noiseFillPath(data, x, y) {
  let d = "";
  for (let i = 1; i < data.length - 1; i++) {
    let a = data[i - 1], b = data[i], c = data[i + 1];
    if (c[0] - a[0] > 0.0205) continue;
    let ax = x(a[0]), ay = y(a[1]), bx = x(b[0]), by = y(b[1]), cx = x(c[0]), cy = y(c[1]);
    const cross = (bx - ax) * (cy - ay) - (by - ay) * (cx - ax);
    if (Math.abs(cross) < 1e-6) continue;
    if (cross < 0) { const tx = ax, ty = ay; ax = cx; ay = cy; cx = tx; cy = ty; }
    d += `M${ax},${ay}L${bx},${by}L${cx},${cy}Z`;
  }
  return d;
}

panels.forEach((p, i) => {
  const left = colLefts[p.col], top = rowTops[p.row], bottom = rowBottoms[p.row];
  const x = d3.scaleLinear().domain(xDomain).range([left, left + axW]);
  const y = d3.scaleLinear().domain(yDomain).range([bottom, top]);
  const clipId = "clip" + i;
  svg.append("clipPath").attr("id", clipId).append("rect")
    .attr("x", left).attr("y", top).attr("width", axW).attr("height", bottom - top);
  const g = svg.append("g").attr("clip-path", `url(#${clipId})`);

  const area = d3.area().x(d => x(d[0])).y0(d => y(d[1])).y1(d => y(d[2]));
  const line = d3.line().x(d => x(d[0])).y(d => y(d[1]));

  // pass 1: shaded bands, spikes, streaks
  p.layers.forEach(([type, s, data]) => {
    const c = seriesColors[s];
    if (type === "band") {
      g.append("path").datum(data).attr("d", area).attr("fill", c).attr("fill-opacity", BAND_ALPHA).attr("stroke", "none");
    } else if (type === "spikes") {
      g.append("g").selectAll("line").data(data).join("line")
        .attr("x1", d => x(d[0])).attr("x2", d => x(d[0]))
        .attr("y1", y(0)).attr("y2", d => y(d[1]))
        .attr("stroke", c).attr("stroke-opacity", BAND_ALPHA).attr("stroke-width", 3.2);
    } else if (type === "streaks") {
      g.append("g").selectAll("line").data(data).join("line")
        .attr("x1", d => x(d[0])).attr("x2", d => x(d[0]))
        .attr("y1", d => y(d[1])).attr("y2", d => y(d[2]))
        .attr("stroke", c).attr("stroke-opacity", BAND_ALPHA).attr("stroke-width", 4);
    }
  });
  // pass 2: mean lines
  p.layers.forEach(([type, s, data]) => {
    if (type !== "line") return;
    const c = seriesColors[s];
    const nf = noiseFillPath(data, x, y);
    if (nf) g.append("path").attr("d", nf).attr("fill", c).attr("stroke", "none");
    g.append("path").datum(data).attr("d", line).attr("fill", "none").attr("stroke", c)
      .attr("stroke-width", LINE_W).attr("stroke-linejoin", "round");
  });

  // axes
  const xa = svg.append("g").attr("transform", `translate(0,${bottom})`)
    .call(d3.axisBottom(x).tickValues(xTicks).tickFormat(d3.format(".1f")).tickSize(7).tickPadding(10.5).tickSizeOuter(0));
  const ya = svg.append("g").attr("transform", `translate(${left},0)`)
    .call(d3.axisLeft(y).tickValues(yTicks).tickFormat(d3.format("d")).tickSize(7).tickPadding(9).tickSizeOuter(0));
  [xa, ya].forEach(a => {
    a.select(".domain").remove();
    a.attr("font-family", FONT).attr("font-size", 33);
    a.selectAll(".tick line").attr("stroke", SPINE).attr("stroke-width", 1.8);
    a.selectAll(".tick text").attr("fill", "#000");
  });

  // spines
  svg.append("rect").attr("x", left).attr("y", top).attr("width", axW).attr("height", bottom - top)
    .attr("fill", "none").attr("stroke", SPINE).attr("stroke-width", 1.8);

  // title
  svg.append("text").attr("x", left + axW / 2).attr("y", top - 12)
    .attr("text-anchor", "middle").attr("font-size", 41).text(panelTitles[i]);

  // offset text
  svg.append("text").attr("x", left + axW).attr("y", bottom + 70)
    .attr("text-anchor", "end").attr("font-size", 18).text("1e10");

  if (p.col === 0) {
    svg.append("text").attr("transform", `translate(44,${(top + bottom) / 2}) rotate(-90)`)
      .attr("text-anchor", "middle").attr("font-size", 40).text("Episode score");
  }
  if (p.row === 1) {
    svg.append("text").attr("x", left + axW / 2).attr("y", bottom + 87)
      .attr("text-anchor", "middle").attr("font-size", 40).text("Number of frames");
  }
});

// legend
const lg = svg.append("g");
lg.append("rect").attr("x", 582).attr("y", 78).attr("width", 650).attr("height", 279).attr("rx", 8)
  .attr("fill", "#fff").attr("fill-opacity", 0.8).attr("stroke", "#cccccc").attr("stroke-opacity", 0.8).attr("stroke-width", 2);
const legendRowY = [108, 163, 217, 271, 324];
seriesNames.forEach((s, k) => {
  const yy = legendRowY[k];
  lg.append("line").attr("x1", 595).attr("x2", 669).attr("y1", yy).attr("y2", yy)
    .attr("stroke", seriesColors[s]).attr("stroke-width", 3.2);
  const t = lg.append("text").attr("x", 699).attr("y", yy + 12.7).attr("font-size", 35);
  const [pre, post] = legendLabels[k];
  t.append("tspan").text(pre);
  if (post !== null) {
    t.append("tspan").attr("font-style", "italic").text("w");
    t.append("tspan").attr("font-style", "italic").attr("font-size", 24.5).attr("dy", 6).text("loss");
    t.append("tspan").attr("dy", -6).text("\u2009=\u20090" + post.slice(1));
  }
});
</script>
</body></html>
